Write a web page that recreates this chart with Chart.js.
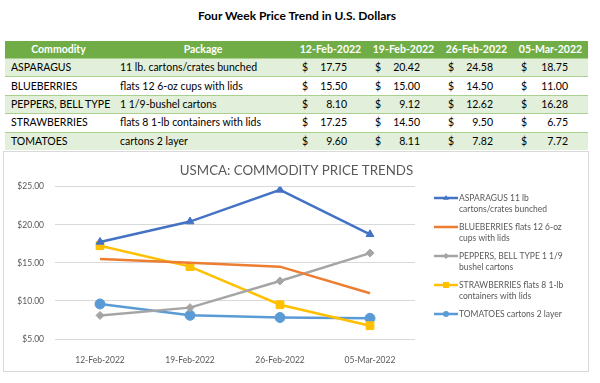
<!DOCTYPE html>
<html><head><meta charset="utf-8">
<script src="https://cdn.jsdelivr.net/npm/chart.js@4/dist/chart.umd.min.js"></script>
<style>
html,body{margin:0;padding:0;background:#fff;width:600px;height:383px;overflow:hidden;font-family:Lato,"Liberation Sans",sans-serif}
#title{position:absolute;left:0;top:8px;width:594px;text-align:center;font-weight:bold;font-size:12px;line-height:16px;color:#000}
#tbl{position:absolute;left:5px;top:41px;width:583px;border-collapse:collapse;table-layout:fixed;font-size:10.5px;color:#000}
#tbl td,#tbl th{padding:0;white-space:nowrap;overflow:hidden}
#tbl th{background:#70AD47;color:#fff;font-weight:bold;height:17px;text-align:center;line-height:17px}
#tbl tr.b td{height:17.4px;line-height:17px;border-top:1px solid #A9D08E}
#tbl tr.odd td{background:#E2EFDA}
#tbl td.c1{padding-left:6px}
#tbl td.c2{padding-left:8px}
#tbl td.n{text-align:right;padding-right:20px}
#tbl td.n span{float:left;padding-left:8px}
#box{position:absolute;left:3px;top:151px;width:586px;height:221px;border:1px solid #D9D9D9;box-sizing:border-box;background:#fff}
#c{position:absolute;left:4px;top:152px}
</style>
</head><body>
<div id="title">Four Week Price Trend in U.S. Dollars</div>
<table id="tbl"><colgroup><col style="width:107px"><col style="width:182px"><col style="width:73px"><col style="width:73px"><col style="width:73px"><col style="width:75px"></colgroup><tbody id="tb"></tbody></table>
<div id="box"></div>
<canvas id="c" width="584" height="219"></canvas>
<script>
const pageTitle = 'Four Week Price Trend in U.S. Dollars';
const chartTitle = 'USMCA: COMMODITY PRICE TRENDS';
const headers = ['Commodity', 'Package'];
const dates = ['12-Feb-2022', '19-Feb-2022', '26-Feb-2022', '05-Mar-2022'];
const commodities = ['ASPARAGUS', 'BLUEBERRIES', 'PEPPERS, BELL TYPE', 'STRAWBERRIES', 'TOMATOES'];
const packages = ['11 lb. cartons/crates bunched', 'flats 12 6-oz cups with lids', '1 1/9-bushel cartons', 'flats 8 1-lb containers with lids', 'cartons 2 layer'];
const asparagus = [17.75, 20.42, 24.58, 18.75];
const blueberries = [15.50, 15.00, 14.50, 11.00];
const peppers = [8.10, 9.12, 12.62, 16.28];
const strawberries = [17.25, 14.50, 9.50, 6.75];
const tomatoes = [9.60, 8.11, 7.82, 7.72];
const legendLabels = [
  ['ASPARAGUS 11 lb', 'cartons/crates bunched'],
  ['BLUEBERRIES flats 12 6-oz', 'cups with lids'],
  ['PEPPERS, BELL TYPE 1 1/9', 'bushel cartons'],
  ['STRAWBERRIES flats 8 1-lb', 'containers with lids'],
  ['TOMATOES cartons 2 layer']
];
const yTicks = [5, 10, 15, 20, 25];

const seriesValues = [asparagus, blueberries, peppers, strawberries, tomatoes];
const colors = ['#4472C4', '#ED7D31', '#A5A5A5', '#FFC000', '#5B9BD5'];
const pointStyles = ['triangle', 'circle', 'rectRot', 'rect', 'circle'];
const pointRadii = [4.5, 0, 4, 5.5, 5];

// table
document.getElementById('title').textContent = pageTitle;
const tb = document.getElementById('tb');
let h = '<tr>' + headers.map(x => '<th>' + x + '</th>').join('') + dates.map(d => '<th>' + d + '</th>').join('') + '</tr>';
commodities.forEach((c, i) => {
  h += '<tr class="b' + (i % 2 === 0 ? ' odd' : '') + '"><td class="c1">' + c + '</td><td class="c2">' + packages[i] + '</td>' +
    seriesValues[i].map(v => '<td class="n"><span>$</span>' + v.toFixed(2) + '</td>').join('') + '</tr>';
});
tb.innerHTML = h;

function drawMarker(ctx, style, x, y, r) {
  ctx.beginPath();
  if (style === 'triangle') {
    ctx.moveTo(x, y - r); ctx.lineTo(x + r * 0.95, y + r * 0.6); ctx.lineTo(x - r * 0.95, y + r * 0.6); ctx.closePath();
  } else if (style === 'rectRot') {
    ctx.moveTo(x, y - r); ctx.lineTo(x + r, y); ctx.lineTo(x, y + r); ctx.lineTo(x - r, y); ctx.closePath();
  } else if (style === 'rect') {
    ctx.rect(x - r, y - r, 2 * r, 2 * r);
  } else {
    ctx.arc(x, y, r, 0, Math.PI * 2);
  }
  ctx.fill();
}

const decor = {
  id: 'decor',
  afterDraw(chart) {
    const ctx = chart.ctx;
    ctx.save();
    ctx.fillStyle = '#595959';
    ctx.font = '13.3px Lato';
    ctx.textAlign = 'center';
    ctx.textBaseline = 'middle';
    ctx.fillText(chartTitle, 292.5, 19);
    // legend
    ctx.font = '8.5px Lato';
    ctx.textAlign = 'left';
    chart.data.datasets.forEach((ds, i) => {
      const y0 = 46 + i * 29;
      ctx.strokeStyle = ds.borderColor;
      ctx.fillStyle = ds.borderColor;
      ctx.lineWidth = 2.5;
      ctx.beginPath(); ctx.moveTo(430, y0); ctx.lineTo(454, y0); ctx.stroke();
      if (ds.pointRadius > 0) {
        drawMarker(ctx, ds.pointStyle, 442, y0, 3);
      }
      ctx.fillStyle = '#595959';
      legendLabels[i].forEach((line, k) => ctx.fillText(line, 455, y0 + k * 11.5));
    });
    ctx.restore();
  }
};

const datasets = seriesValues.map((vals, i) => ({
  label: legendLabels[i].join(' '),
  data: vals,
  borderColor: colors[i],
  backgroundColor: colors[i],
  borderWidth: 2.5,
  pointStyle: pointStyles[i],
  pointRadius: pointRadii[i],
  pointHoverRadius: pointRadii[i],
  pointBorderWidth: 1,
  tension: 0
}));

new Chart(document.getElementById('c'), {
  type: 'line',
  data: { labels: dates, datasets },
  options: {
    responsive: false,
    animation: false,
    devicePixelRatio: 1,
    layout: { padding: { left: 0, right: 173, top: 34.7, bottom: 0 } },
    plugins: { legend: { display: false }, title: { display: false }, tooltip: { enabled: false } },
    scales: {
      x: {
        offset: true,
        grid: { display: false },
        border: { display: false },
        ticks: { color: '#595959', font: { family: 'Lato', size: 8.5 }, padding: 8, maxRotation: 0 },
        afterFit(s) { s.height = 32; }
      },
      y: {
        min: 5, max: 25,
        afterBuildTicks(s) { s.ticks = yTicks.map(v => ({ value: v })); },
        grid: { color: '#D9D9D9', lineWidth: 1, drawTicks: false },
        border: { display: false },
        ticks: { color: '#595959', font: { family: 'Lato', size: 8.5 }, padding: 11, callback: v => '$' + Number(v).toFixed(2) },
        afterFit(s) { s.width = 51; }
      }
    }
  },
  plugins: [decor]
});
</script>
</body></html>
